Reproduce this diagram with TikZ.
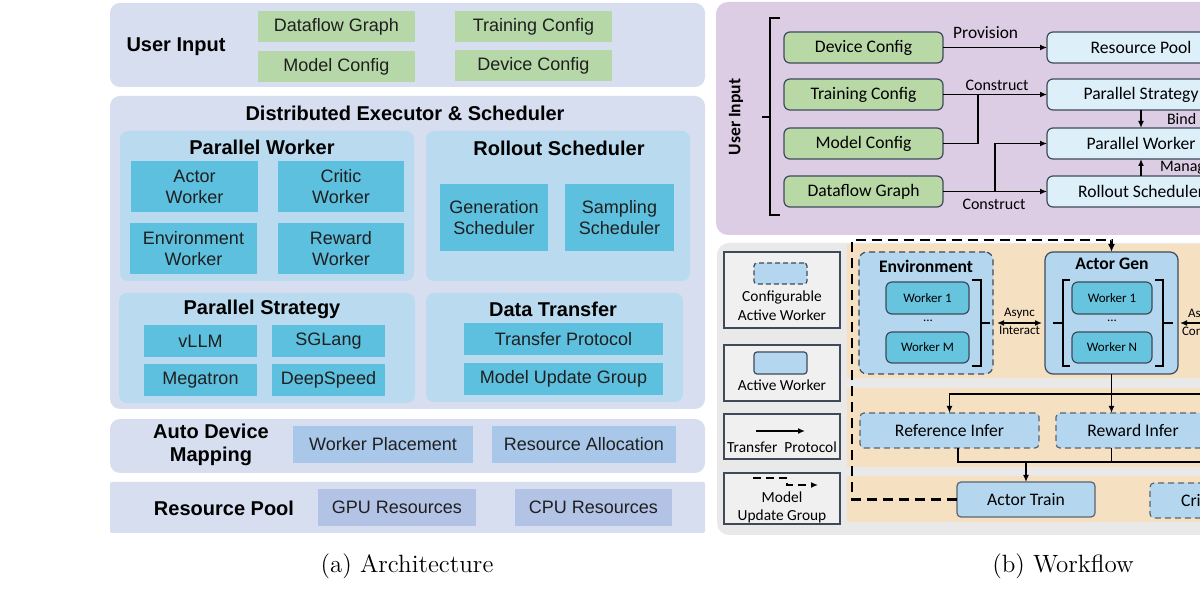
\documentclass[tikz,border=0pt]{standalone}
\usepackage{fontspec}
\newfontfamily\arialf{Liberation Sans}
\newfontfamily\calf{Carlito}
\usetikzlibrary{arrows.meta,calc}
\definecolor{lpanel}{HTML}{D6DEF0}
\definecolor{lsub}{HTML}{BADBEF}
\definecolor{lcyan}{HTML}{5EC0DF}
\definecolor{lgreen}{HTML}{B6D8A8}
\definecolor{lmap}{HTML}{A9C7E8}
\definecolor{lres}{HTML}{B3C3E6}
\definecolor{rpurple}{HTML}{DCCDE5}
\definecolor{rgreen}{HTML}{B8D8A6}
\definecolor{rlblue}{HTML}{DDF0F9}
\definecolor{rgray}{HTML}{E9E9E9}
\definecolor{rtan}{HTML}{F5E0C2}
\definecolor{rblue}{HTML}{B4D7EF}
\definecolor{rcyan}{HTML}{66C4DF}
\definecolor{legfill}{HTML}{F0F0F0}
\definecolor{bord}{HTML}{3E4A5A}
\definecolor{dgray}{HTML}{5A6470}
\newcommand\mkbx[7]{\node[#6, minimum width={(#4-#2)*0.5pt}, minimum height={(#5-#3)*0.5pt}] (#1) at ({(#2+#4)/2},{(#3+#5)/2}) {#7};}
\tikzset{
  every node/.style={inner sep=0pt, outer sep=0pt},
  lpan/.style={fill=lpanel, rounded corners=5pt},
  lsubp/.style={fill=lsub, rounded corners=4pt},
  lfont/.style={font=\arialf\fontsize{9}{10.5}\selectfont, text=black!88},
  lw/.style={fill=lcyan, lfont, align=center},
  lgr/.style={fill=lgreen, lfont},
  lmapb/.style={fill=lmap, lfont},
  lresb/.style={fill=lres, lfont},
  ltitle/.style={font=\arialf\bfseries\fontsize{10}{11.5}\selectfont, align=center},
  ppan/.style={fill=rpurple, rounded corners=6pt},
  rfont/.style={font=\calf\fontsize{8.8}{10}\selectfont},
  rbold/.style={font=\calf\bfseries\fontsize{8.8}{10}\selectfont},
  rgr/.style={fill=rgreen, draw=bord, line width=0.6pt, rounded corners=3pt, rfont},
  rlb/.style={fill=rlblue, draw=bord, line width=0.6pt, rounded corners=3pt, rfont},
  rlbl/.style={font=\calf\fontsize{8}{9}\selectfont},
  asy/.style={font=\calf\fontsize{6.5}{7.5}\selectfont},
  ln/.style={line width=0.7pt, draw=black},
  arr/.style={ln, -{Latex[length=3.5pt,width=3pt]}},
  darr/.style={ln, {Latex[length=3.5pt,width=3pt]}-{Latex[length=3.5pt,width=3pt]}},
  gpan/.style={fill=rgray, rounded corners=6pt},
  envb/.style={fill=rblue, draw=bord, line width=0.6pt, rounded corners=4pt},
  envd/.style={envb, dash pattern=on 3pt off 2pt},
  wkb/.style={fill=rcyan, draw=bord, line width=0.6pt, rounded corners=3pt, font=\calf\fontsize{6.5}{7.5}\selectfont},
  infs/.style={fill=rblue, draw=dgray, line width=0.6pt, rounded corners=2pt, rfont},
  infd/.style={infs, dash pattern=on 3pt off 2pt},
  legb/.style={fill=legfill, draw=bord, line width=0.8pt},
  legss/.style={fill=rblue, draw=bord, line width=0.6pt, rounded corners=1.5pt},
  legsd/.style={legss, dash pattern=on 2.5pt off 1.5pt},
  legt/.style={font=\calf\fontsize{7.7}{9.5}\selectfont, align=center},
  mupd/.style={line width=1.3pt, dash pattern=on 5pt off 3pt},
  bk/.style={line width=0.7pt},
  capt/.style={font=\fontsize{12.5}{14}\selectfont}
}
\begin{document}
\begin{tikzpicture}[x=0.5pt,y=-0.5pt]
\useasboundingbox (0,0) rectangle (1200,592);
\clip (0,0) rectangle (1200,592);
\fill[white] (0,0) rectangle (1200,592);

% ================= LEFT: Architecture =================
\mkbx{uipanel}{110}{3}{705}{87}{lpan}{}
\node[ltitle] (uilbl) at (176,47) {User Input};
\mkbx{ldfg}{258}{11}{415}{42}{lgr}{Dataflow Graph}
\mkbx{lmc}{258}{51}{415}{82}{lgr}{Model Config}
\mkbx{ltc}{455}{11}{612}{42}{lgr}{Training Config}
\mkbx{ldc}{455}{50}{612}{81}{lgr}{Device Config}

\mkbx{depanel}{110}{96}{705}{409}{lpan}{}
\node[ltitle] (detitle) at (405,113) {Distributed Executor \& Scheduler};
\mkbx{pwpanel}{120}{131}{414}{281}{lsubp}{}
\node[ltitle] (pwtitle) at (262,147) {Parallel Worker};
\mkbx{aw}{131}{161}{258}{212}{lw}{Actor\\Worker}
\mkbx{cw}{278}{161}{404}{212}{lw}{Critic\\Worker}
\mkbx{ew}{130}{223}{257}{274}{lw}{Environment\\Worker}
\mkbx{rw}{278}{223}{404}{274}{lw}{Reward\\Worker}
\mkbx{rspanel}{426}{131}{690}{281}{lsubp}{}
\node[ltitle] (rstitle) at (559,148) {Rollout Scheduler};
\mkbx{gs}{440}{184}{548}{251}{lw}{Generation\\Scheduler}
\mkbx{ss}{565}{184}{674}{251}{lw}{Sampling\\Scheduler}
\mkbx{pspanel}{119}{293}{415}{403}{lsubp}{}
\node[ltitle] (pstitle) at (262,309) {Parallel Strategy};
\mkbx{vllm}{144}{325}{257}{357}{lw}{vLLM}
\mkbx{sgl}{272}{325}{385}{357}{lw}{SGLang}
\mkbx{mega}{144}{364}{257}{396}{lw}{Megatron}
\mkbx{dsp}{272}{364}{385}{396}{lw}{DeepSpeed}
\mkbx{dtpanel}{426}{293}{683}{402}{lsubp}{}
\node[ltitle] (dttitle) at (553,309) {Data Transfer};
\mkbx{tprot}{464}{323}{663}{355}{lw}{Transfer Protocol}
\mkbx{mug}{464}{363}{663}{395}{lw}{Model Update Group}

\mkbx{admpanel}{110}{419}{705}{473}{lpan}{}
\node[ltitle] (admtitle) at (211,445) {Auto Device\\Mapping};
\mkbx{wplace}{293}{426}{473}{463}{lmapb}{Worker Placement}
\mkbx{ralloc}{492}{426}{676}{463}{lmapb}{Resource Allocation}

\mkbx{rppanel}{110}{482}{705}{533}{lpan, rounded corners=1pt}{}
\node[ltitle] (rptitle) at (224,508) {Resource Pool};
\mkbx{gpu}{318}{489}{476}{526}{lresb}{GPU Resources}
\mkbx{cpu}{515}{489}{672}{526}{lresb}{CPU Resources}
\node[capt] (capa) at (407,566) {(a) Architecture};

% ================= RIGHT TOP: User input flow =================
\mkbx{purp}{716}{2}{1230}{235}{ppan}{}
\draw[bk] (780,18) -- (770,18) -- (770,215) -- (780,215) (770,117) -- (762,117);
\node[rbold, rotate=90] (uiv) at (736,117) {User Input};
\mkbx{devcfg}{784}{32}{943}{63}{rgr}{Device Config}
\mkbx{trcfg}{784}{79}{943}{110}{rgr}{Training Config}
\mkbx{mdcfg}{784}{128}{943}{159}{rgr}{Model Config}
\mkbx{dfg}{784}{176}{943}{207}{rgr}{Dataflow Graph}
\mkbx{rpool}{1047}{32}{1235}{63}{rlb}{Resource Pool}
\mkbx{pstrat}{1047}{79}{1235}{110}{rlb}{Parallel Strategy}
\mkbx{pwork}{1047}{128}{1235}{159}{rlb}{Parallel Worker}
\mkbx{rsched}{1047}{176}{1235}{207}{rlb}{Rollout Scheduler}
\draw[arr] (devcfg) -- node[rlbl, above=4.5pt, pos=0.41, font=\calf\fontsize{8.7}{9}\selectfont]{Provision} (rpool);
\draw[arr] (trcfg) -- node[rlbl, above=2pt, pos=0.52]{Construct} (pstrat);
\coordinate (j1) at (978,94.5);
\draw[ln] (mdcfg.east) -| (j1);
\draw[arr] (dfg) -- node[rlbl, below=4pt, pos=0.49]{Construct} (rsched);
\coordinate (j2) at (995,191.5);
\draw[arr] (j2) |- (pwork.west);
\draw[arr] (pstrat) -- node[rlbl, right=13pt]{Bind} (pwork);
\draw[arr] (rsched) -- node[rlbl, right=9.5pt]{Manage} (pwork);

% ================= RIGHT BOTTOM: Workflow =================
\mkbx{graypan}{717}{243}{1230}{535}{gpan}{}
\fill[rtan] (847,244) rectangle (1230,378);
\fill[rtan] (847,388) rectangle (1230,467);
\fill[rtan] (847,476) rectangle (1230,522);

% legend
\mkbx{leg1}{724}{252}{840}{328}{legb}{}
\mkbx{legs1}{754}{263}{807}{284}{legsd}{}
\node[legt] (legt1) at (782,306) {Configurable\\Active Worker};
\mkbx{leg2}{724}{345}{840}{401}{legb}{}
\mkbx{legs2}{754}{352}{807}{374}{legss}{}
\node[legt] (legt2) at (782,385) {Active Worker};
\mkbx{leg3}{724}{414}{840}{459}{legb}{}
\coordinate (la1) at (756,431);
\coordinate (la2) at (805,431);
\draw[arr] (la1) -- (la2);
\node[legt] (legt3) at (782,447) {Transfer\ \ Protocol};
\mkbx{leg4}{724}{473}{840}{524}{legb}{}
\coordinate (lm1) at (753,478);
\coordinate (lm2) at (787,485);
\coordinate (lm3) at (818,485);
\draw[line width=1pt, dash pattern=on 4pt off 2.5pt, -{Latex[length=3.5pt,width=3pt]}] (lm1) -| (lm2) -- (lm3);
\node[legt, font=\calf\fontsize{7.7}{9}\selectfont] (legt4) at (782,507) {Model\\Update Group};

% environment
\mkbx{env}{859}{252}{993}{374}{envd}{}
\node[rbold] (envtitle) at (926,266) {Environment};
\mkbx{ew1}{886}{282}{969}{314}{wkb}{Worker 1}
\node[asy] (edots) at (928,321) {...};
\mkbx{ewm}{886}{332}{969}{363}{wkb}{Worker M}
\draw[bk] (972,280) -- (981,280) -- (981,366) -- (972,366) (981,323) -- (990,323);

% actor gen
\mkbx{agen}{1045}{252}{1178}{374}{envb}{}
\node[rbold] (agtitle) at (1112,264) {Actor Gen};
\mkbx{aw1}{1072}{282}{1152}{314}{wkb}{Worker 1}
\node[asy] (adots) at (1112,321) {...};
\mkbx{awn}{1072}{332}{1152}{363}{wkb}{Worker N}
\draw[bk] (1070,280) -- (1063,280) -- (1063,366) -- (1070,366) (1063,323) -- (1053,323);
\draw[bk] (1155,280) -- (1163,280) -- (1163,366) -- (1155,366) (1163,323) -- (1173,323);

\draw[darr] ([xshift=2pt,yshift=-5pt]env.east) -- node[asy, above=2pt]{Async} node[asy, below=1.5pt]{Interact} ([xshift=-1.5pt,yshift=-5pt]agen.west);
\coordinate (redge) at (1230,323);
\draw[arr] (redge) -- ([xshift=1pt,yshift=-5pt]agen.east);
\node[asy, anchor=west] (asy2) at (1188,314) {Async};
\node[asy, anchor=west] (con2) at (1182,331) {Con};

% inference
\mkbx{refinf}{860}{413}{1039}{448}{infd}{Reference Infer}
\mkbx{rewinf}{1056}{413}{1210}{448}{infd}{Reward Infer}
\mkbx{atrain}{957}{482}{1095}{517}{infs}{Actor Train}
\mkbx{ctrain}{1150}{483}{1288}{518}{infd}{Critic Train}

\coordinate (br1) at (1111.5,394);
\coordinate (redge2) at (1230,394);
\draw[arr] (agen.south) -- (agen.south |- rewinf.north);
\draw[arr] (br1) -| (refinf.north);
\draw[ln] (br1) -- (redge2);
\coordinate (mg) at (1026,462);
\coordinate (redge3) at (1230,462);
\draw[ln] ([xshift=4.25pt]refinf.south) |- (redge3);
\draw[ln] (agen.south |- rewinf.south) -- (agen.south |- mg);
\draw[arr] (mg) -- (atrain.north);

% model update group dashed
\coordinate (mu1) at (852,499.5);
\coordinate (mu2) at (852,240);
\draw[mupd, -{Latex[length=4pt,width=3.5pt]}] (atrain.west) -- (mu1) -- (mu2) -| (agen.north);

\node[capt] (capb) at (1063,566) {(b) Workflow};
\end{tikzpicture}
\end{document}
